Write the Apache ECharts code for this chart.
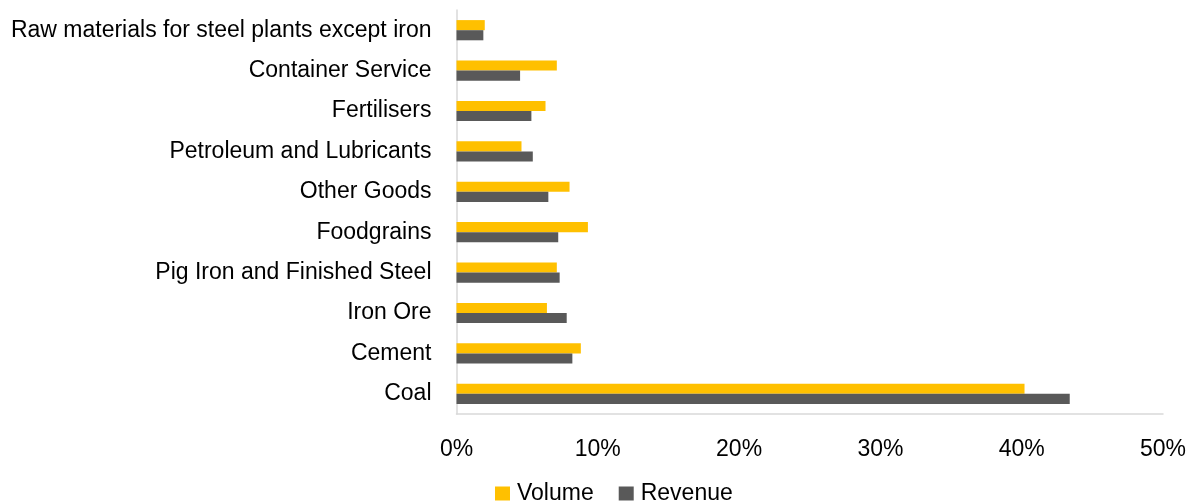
<!DOCTYPE html>
<html>
<head>
<meta charset="utf-8">
<script src="https://cdn.jsdelivr.net/npm/echarts@6/dist/echarts.min.js"></script>
<style>html,body{margin:0;padding:0;background:#fff}#c{width:1190px;height:501px}</style>
</head>
<body>
<div id="c"></div>
<script>
const categories = ['Coal','Cement','Iron Ore','Pig Iron and Finished Steel','Foodgrains','Other Goods','Petroleum and Lubricants','Fertilisers','Container Service','Raw materials for steel plants except iron'];
const volume = [40.2, 8.8, 6.4, 7.1, 9.3, 8.0, 4.6, 6.3, 7.1, 2.0];
const revenue = [43.4, 8.2, 7.8, 7.3, 7.2, 6.5, 5.4, 5.3, 4.5, 1.9];
const seriesNames = ['Volume','Revenue'];
const colors = ['#FFC000','#595959'];
const font = '"Liberation Sans", Arial, sans-serif';
const chart = echarts.init(document.getElementById('c'));
chart.setOption({
  animation:false,
  textStyle:{fontFamily:font},
  grid:{left:456.5,right:27,top:10,bottom:87,containLabel:false,outerBoundsMode:'none'},
  legend:{top:477,left:490,itemWidth:15,itemHeight:14,itemGap:25,icon:'rect',
    textStyle:{fontSize:23,color:'#000',fontFamily:font,padding:[0,0,0,2]},data:seriesNames},
  xAxis:{type:'value',min:0,max:50,interval:10,
    axisLabel:{formatter:'{value}%',fontSize:23,color:'#000',margin:24,fontFamily:font},
    axisLine:{show:true,lineStyle:{color:'#D9D9D9',width:1.5}},axisTick:{show:false},splitLine:{show:false}},
  yAxis:{type:'category',data:categories,
    axisLabel:{fontSize:23,color:'#000',margin:25,fontFamily:font},
    axisLine:{show:true,lineStyle:{color:'#D9D9D9',width:1.5}},axisTick:{show:false}},
  series:[
    {name:seriesNames[0],type:'bar',data:volume,itemStyle:{color:colors[0]},barGap:'0%',barCategoryGap:'50%'},
    {name:seriesNames[1],type:'bar',data:revenue,itemStyle:{color:colors[1]},barGap:'0%',barCategoryGap:'50%'}
  ]
});
</script>
</body>
</html>
